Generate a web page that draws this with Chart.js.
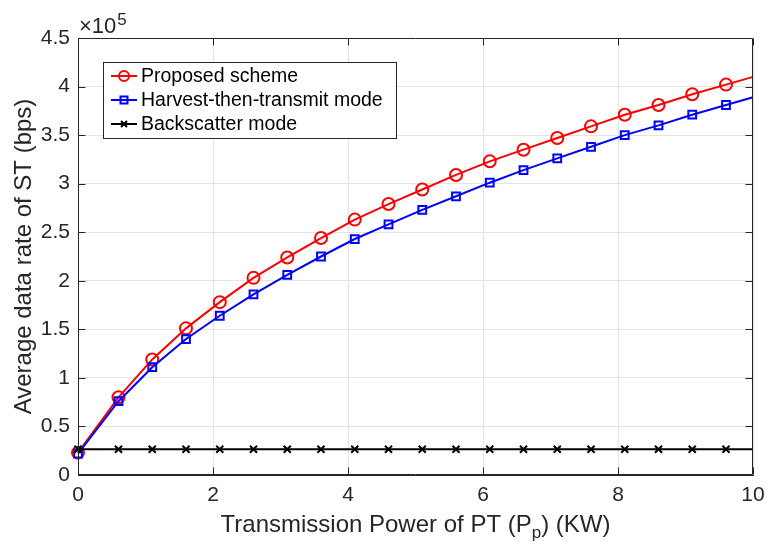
<!DOCTYPE html>
<html>
<head>
<meta charset="utf-8">
<script src="https://cdn.jsdelivr.net/npm/chart.js@4/dist/chart.umd.min.js"></script>
<style>
html,body{margin:0;padding:0;background:#fff;}
canvas{display:block;}
</style>
</head>
<body>
<canvas id="c" width="767" height="547"></canvas>
<script>
// ---- data ----
const powerKW = [0, 0.6, 1.1, 1.6, 2.1, 2.6, 3.1, 3.6, 4.1, 4.6, 5.1, 5.6, 6.1, 6.6, 7.1, 7.6, 8.1, 8.6, 9.1, 9.6, 10];
const proposedRate = [23000, 80000, 119000, 151000, 178000, 203000, 224000, 244000, 263000, 279000, 294000, 309000, 323000, 335000, 347000, 359000, 371000, 381000, 392000, 402000, 410000];
const harvestRate = [22000, 76000, 111000, 140000, 164000, 186000, 206000, 225000, 243000, 258000, 273000, 287000, 301000, 314000, 326000, 338000, 350000, 360000, 371000, 381000, 389000];
const backscatterRate = [26500, 26500, 26500, 26500, 26500, 26500, 26500, 26500, 26500, 26500, 26500, 26500, 26500, 26500, 26500, 26500, 26500, 26500, 26500, 26500, 26500];
const seriesNames = ['Proposed scheme', 'Harvest-then-transmit mode', 'Backscatter mode'];
const xTitleParts = ['Transmission Power of PT (P', 'p', ') (KW)'];
const yTitle = 'Average data rate of ST (bps)';
const yExponent = 5;

const FONT = '"Liberation Sans", Arial, Helvetica, sans-serif';
const AXIS_COLOR = '#262626';

function pts(vals) { return powerKW.map((x, i) => ({ x: x, y: vals[i] })); }
function markerRadii(r) { return powerKW.map((x, i) => (i === powerKW.length - 1 ? 0 : r)); }

const decor = {
  id: 'decor',
  beforeDraw(chart) {
    const ctx = chart.ctx;
    ctx.save();
    ctx.fillStyle = '#fff';
    ctx.fillRect(0, 0, chart.width, chart.height);
    ctx.restore();
  },
  afterDraw(chart) {
    const ctx = chart.ctx, a = chart.chartArea, xs = chart.scales.x, ys = chart.scales.y;
    ctx.save();
    // frame + inward ticks
    ctx.strokeStyle = AXIS_COLOR;
    ctx.lineWidth = 1;
    const L = Math.round(a.left) + 0.5, R = Math.round(a.right) - 0.5, T = Math.round(a.top) + 0.5, B = Math.round(a.bottom) - 0.5;
    ctx.beginPath();
    ctx.rect(L, T, R - L, B - T);
    xs.ticks.forEach(t => {
      const px = Math.round(xs.getPixelForValue(t.value)) + 0.5;
      ctx.moveTo(px, B); ctx.lineTo(px, B - 7);
      ctx.moveTo(px, T); ctx.lineTo(px, T + 7);
    });
    ys.ticks.forEach(t => {
      const py = Math.round(ys.getPixelForValue(t.value)) + 0.5;
      ctx.moveTo(L, py); ctx.lineTo(L + 7, py);
      ctx.moveTo(R, py); ctx.lineTo(R - 7, py);
    });
    ctx.stroke();

    // exponent label
    ctx.fillStyle = AXIS_COLOR;
    ctx.textBaseline = 'alphabetic';
    ctx.textAlign = 'left';
    ctx.font = '22px ' + FONT;
    const ex = a.left + 1;
    ctx.fillText('\u00d710', ex, 33);
    const w10 = ctx.measureText('\u00d710').width;
    ctx.font = '17px ' + FONT;
    ctx.fillText(String(yExponent), ex + w10 + 1, 25);

    // x title with subscript
    const bigF = '24px ' + FONT, smallF = '17px ' + FONT;
    ctx.font = bigF; const w1 = ctx.measureText(xTitleParts[0]).width;
    ctx.font = smallF; const w2 = ctx.measureText(xTitleParts[1]).width;
    ctx.font = bigF; const w3 = ctx.measureText(xTitleParts[2]).width;
    let tx = (a.left + a.right) / 2 - (w1 + w2 + w3) / 2;
    const base = 532;
    ctx.font = bigF; ctx.fillText(xTitleParts[0], tx, base); tx += w1;
    ctx.font = smallF; ctx.fillText(xTitleParts[1], tx, base + 6); tx += w2;
    ctx.font = bigF; ctx.fillText(xTitleParts[2], tx, base);

    // y title
    ctx.save();
    ctx.translate(31, (a.top + a.bottom) / 2);
    ctx.rotate(-Math.PI / 2);
    ctx.textAlign = 'center';
    ctx.font = bigF;
    ctx.fillText(yTitle, 0, 0);
    ctx.restore();

    // legend
    const lx = a.left + 25, ly = a.top + 24, lw = 293, lh = 76;
    ctx.fillStyle = '#fff';
    ctx.fillRect(lx, ly, lw, lh);
    ctx.strokeStyle = '#262626';
    ctx.lineWidth = 1;
    ctx.strokeRect(lx + 0.5, ly + 0.5, lw, lh);
    const colors = ['#ff0000', '#0000ff', '#000000'];
    const styles = ['circle', 'rect', 'cross'];
    ctx.font = '19.5px ' + FONT;
    ctx.textBaseline = 'middle';
    for (let i = 0; i < 3; i++) {
      const cy = ly + 14 + i * 24;
      ctx.strokeStyle = colors[i];
      ctx.lineWidth = 2;
      ctx.beginPath();
      ctx.moveTo(lx + 8, cy); ctx.lineTo(lx + 34, cy);
      ctx.stroke();
      const mx = lx + 21;
      ctx.beginPath();
      if (styles[i] === 'circle') { ctx.arc(mx, cy, 5, 0, Math.PI * 2); }
      else if (styles[i] === 'rect') { ctx.rect(mx - 3.5, cy - 3.5, 7, 7); }
      else { ctx.moveTo(mx - 3, cy - 3); ctx.lineTo(mx + 3, cy + 3); ctx.moveTo(mx - 3, cy + 3); ctx.lineTo(mx + 3, cy - 3); }
      ctx.stroke();
      ctx.fillStyle = '#000';
      ctx.fillText(seriesNames[i], lx + 38, cy + 1);
    }
    ctx.restore();
  }
};

new Chart(document.getElementById('c'), {
  type: 'line',
  data: {
    datasets: [
      {
        label: seriesNames[0], data: pts(proposedRate),
        borderColor: '#ff0000', borderWidth: 2, backgroundColor: 'rgba(0,0,0,0)',
        pointStyle: 'circle', pointRadius: markerRadii(6), pointBorderWidth: 2,
        pointBorderColor: '#ff0000', pointBackgroundColor: 'rgba(0,0,0,0)',
        tension: 0, clip: false, order: 3
      },
      {
        label: seriesNames[1], data: pts(harvestRate),
        borderColor: '#0000ff', borderWidth: 2, backgroundColor: 'rgba(0,0,0,0)',
        pointStyle: 'rect', pointRadius: markerRadii(5.5), pointBorderWidth: 2,
        pointBorderColor: '#0000ff', pointBackgroundColor: 'rgba(0,0,0,0)',
        tension: 0, clip: false, order: 2
      },
      {
        label: seriesNames[2], data: pts(backscatterRate),
        borderColor: '#000000', borderWidth: 2, backgroundColor: 'rgba(0,0,0,0)',
        pointStyle: 'crossRot', pointRadius: markerRadii(5), pointBorderWidth: 2,
        pointBorderColor: '#000000', pointBackgroundColor: 'rgba(0,0,0,0)',
        tension: 0, clip: false, order: 1
      }
    ]
  },
  options: {
    responsive: false,
    animation: false,
    devicePixelRatio: 1,
    layout: { padding: { top: 38, right: 14, left: 0, bottom: 0 } },
    plugins: { legend: { display: false }, tooltip: { enabled: false } },
    scales: {
      x: {
        type: 'linear', min: 0, max: 10,
        ticks: { stepSize: 2, color: AXIS_COLOR, font: { family: FONT, size: 21 }, padding: 8, maxRotation: 0 },
        grid: { color: '#e4e4e4', lineWidth: 1, drawTicks: false },
        border: { display: true, color: AXIS_COLOR, width: 1 },
        afterFit(s) { s.height = 72; s.paddingLeft = 0; s.paddingRight = 0; }
      },
      y: {
        type: 'linear', min: 0, max: 450000,
        ticks: {
          stepSize: 50000, color: AXIS_COLOR, font: { family: FONT, size: 21 }, padding: 8,
          callback: v => String(Math.round(v / 10000) / 10)
        },
        grid: { color: '#e4e4e4', lineWidth: 1, drawTicks: false },
        border: { display: true, color: AXIS_COLOR, width: 1 },
        afterFit(s) { s.width = 78; s.paddingTop = 0; s.paddingBottom = 0; }
      }
    }
  },
  plugins: [decor]
});
</script>
</body>
</html>
